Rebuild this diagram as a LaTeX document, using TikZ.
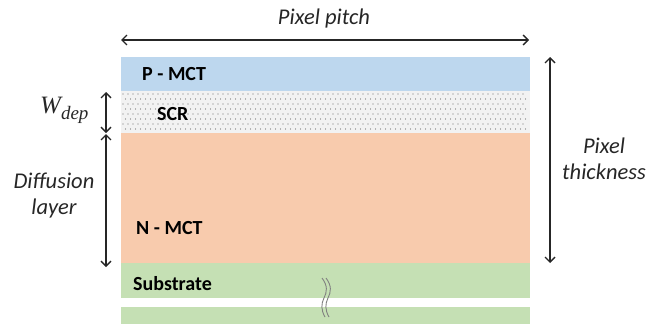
\documentclass[tikz,border=0pt]{standalone}
\usepackage{fontspec}
\setmainfont{Carlito}
\newfontfamily\wfont{Liberation Serif}
\usetikzlibrary{arrows.meta}
\definecolor{pblue}{RGB}{189,215,238}
\definecolor{npeach}{RGB}{248,203,173}
\definecolor{sgreen}{RGB}{197,224,180}
\definecolor{scrgray}{RGB}{242,242,242}
\definecolor{ink}{RGB}{38,38,38}
\tikzset{
  layer/.style={draw=none, minimum width=409pt, inner sep=0pt, anchor=north west},
  lbl/.style={font=\fontsize{20}{22}\selectfont\bfseries, text=black, anchor=west, inner sep=0pt},
  dim/.style={draw=ink, line width=1.4pt, {Straight Barb[length=5pt,width=10pt]}-{Straight Barb[length=5pt,width=10pt]}},
  dimtxt/.style={font=\fontsize{22.5}{26}\selectfont\itshape, text=ink, align=center, inner sep=0pt},
  wave/.style={draw=gray, line width=0.9pt}
}
\begin{document}
\begin{tikzpicture}[x=1pt,y=-1pt]
\useasboundingbox (0,0) rectangle (648,324);
% layers
\node[layer, fill=pblue, minimum height=34pt] (pmct) at (121,57) {};
\node[layer, fill=scrgray, minimum height=42pt] (scr) at (121,91) {};
\node[layer, fill=npeach, minimum height=131pt] (nmct) at (121,133) {};
\node[layer, fill=sgreen, minimum height=35pt] (sub) at (121,263) {};
\node[layer, fill=sgreen, minimum height=17pt] (sub2) at (121,307) {};
% dots of SCR
\foreach \r in {0,...,7} {
  \pgfmathsetmacro{\yy}{94+5*\r}
  \pgfmathsetmacro{\off}{mod(\r,2)*2.5}
  \foreach \c in {0,...,80} {
    \fill[gray!90!black] ({123+\off+5*\c},\yy) circle (0.6pt);
  }
}
% labels
\node[lbl] (tp) at (142,74) {P - MCT};
\node[lbl] (ts) at (157,114) {SCR};
\node[lbl] (tn) at (136,228) {N - MCT};
\node[lbl] (tsub) at (133,284) {Substrate};
% break marks
\draw[wave] (322,278) .. controls (328,286) and (327,292) .. (324,298) .. controls (321,304) and (321,310) .. (325,317);
\draw[wave] (326,278) .. controls (332,286) and (331,292) .. (328,298) .. controls (325,304) and (325,310) .. (329,317);
% dimension arrows
\coordinate (pl) at (121,40);
\coordinate (pr) at (529,40);
\draw[dim] (pl) -- (pr);
\node[dimtxt] (tpitch) at (324,19) {Pixel pitch};
\coordinate (tt) at (550,57);
\coordinate (tb) at (550,263);
\draw[dim] (tt) -- (tb);
\node[dimtxt] (tthick) at (604,159) {Pixel\\thickness};
\coordinate (wt) at (106,92);
\coordinate (wb) at (106,133);
\draw[dim] (wt) -- (wb);
\node[text=ink, inner sep=0pt, anchor=west] (tw) at (40,110) {\wfont\itshape\fontsize{25}{27}\selectfont W\raisebox{-6pt}{\fontsize{19}{21}\selectfont dep}};
\coordinate (dt) at (106,134);
\coordinate (db) at (106,267);
\draw[dim] (dt) -- (db);
\node[dimtxt] (tdiff) at (54,196) {Diffusion\\layer};
\end{tikzpicture}
\end{document}
